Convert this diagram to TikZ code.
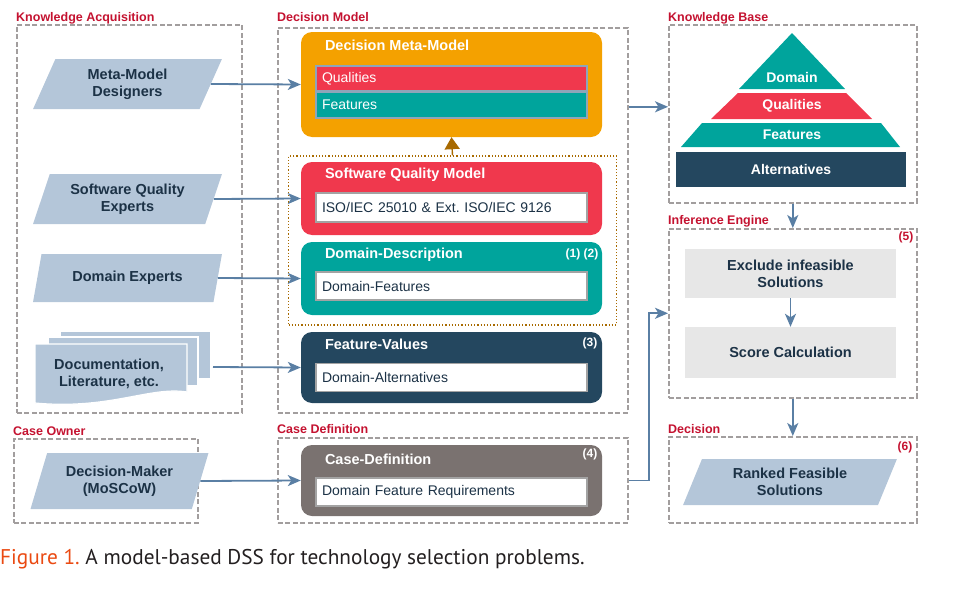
\documentclass[tikz,border=0pt]{standalone}
\usepackage{fontspec}
\setmainfont{Liberation Sans}
\newfontfamily\capfont{PT Sans}
\usetikzlibrary{shapes.geometric,arrows.meta,positioning}

\definecolor{labred}{HTML}{C41230}
\definecolor{framegray}{HTML}{A29E9E}
\definecolor{actorblue}{HTML}{B4C6D9}
\definecolor{navytext}{HTML}{1C3246}
\definecolor{flowblue}{HTML}{5A7FA4}
\definecolor{metaorange}{HTML}{F4A100}
\definecolor{qualred}{HTML}{F0384D}
\definecolor{featteal}{HTML}{00A49C}
\definecolor{fvnavy}{HTML}{24475F}
\definecolor{cdgray}{HTML}{7A7270}
\definecolor{slotgray}{HTML}{A3A3A3}
\definecolor{slotblue}{HTML}{8EA5B9}
\definecolor{brownline}{HTML}{A86A00}
\definecolor{enginegray}{HTML}{E7E7E7}
\definecolor{capred}{HTML}{EA4A12}
\definecolor{captext}{HTML}{231F20}
\frenchspacing

\begin{document}
\begin{tikzpicture}[x=1pt,y=-1pt,
  area/.style={draw=framegray,line width=1.6pt,dash pattern=on 5pt off 2.5pt,anchor=north west,inner sep=0pt},
  arealabel/.style={text=labred,font=\bfseries\fontsize{12.5}{12}\selectfont,anchor=base west,inner sep=0pt},
  actor/.style={trapezium,trapezium left angle=68,trapezium right angle=112,trapezium stretches=true,
    fill=actorblue,text=navytext,font=\bfseries\fontsize{14.5}{17}\selectfont,align=center,inner sep=0pt},
  panel/.style={rounded corners=11pt,minimum width=301pt,inner sep=0pt},
  ptitle/.style={text=white,font=\bfseries\fontsize{14.5}{14}\selectfont,anchor=west,inner sep=0pt},
  pnum/.style={text=white,font=\bfseries\fontsize{12}{12}\selectfont,inner sep=0pt},
  slot/.style={draw=slotgray,line width=1.4pt,fill=white,text width=259pt,inner xsep=6pt,inner ysep=0pt,
    align=left,text=navytext,font=\fontsize{14}{14}\selectfont},
  layer/.style={text=white,font=\bfseries\fontsize{14}{14}\selectfont,inner sep=0pt},
  engine/.style={fill=enginegray,minimum width=211pt,text=navytext,align=center,
    font=\bfseries\fontsize{14.5}{17}\selectfont,inner sep=0pt},
  flow/.style={-{Stealth[length=13pt,width=11pt,inset=3.5pt]},color=flowblue,line width=1.8pt},
]
\useasboundingbox (0,0) rectangle (956,605);

% areas
\node[area,minimum width=225pt,minimum height=388pt] (ka) at (16,24) {};
\node[arealabel] at (16,21) {Knowledge Acquisition};
\node[area,minimum width=350pt,minimum height=385pt] (dm) at (277,27) {};
\node[arealabel] at (277,21) {Decision Model};
\node[area,minimum width=248pt,minimum height=178pt] (kb) at (668,24) {};
\node[arealabel] at (668,21) {Knowledge Base};
\node[area,minimum width=248pt,minimum height=169pt] (ie) at (668,228) {};
\node[arealabel] at (668,224) {Inference Engine};
\node[area,minimum width=248pt,minimum height=86pt] (dec) at (668,436) {};
\node[arealabel] at (668,433) {Decision};
\node[area,minimum width=184pt,minimum height=84pt] (co) at (13,438) {};
\node[arealabel] at (13,435) {Case Owner};
\node[area,minimum width=350pt,minimum height=85pt] (cdarea) at (277,437) {};
\node[arealabel] at (277,433) {Case Definition};

% knowledge acquisition
\node[actor,minimum width=189pt,minimum height=50pt] (mmd) at (127.5,84) {Meta-Model\\Designers};
\node[actor,minimum width=189pt,minimum height=50pt] (sqe) at (127.5,199) {Software Quality\\Experts};
\node[actor,minimum width=189pt,minimum height=48pt] (dex) at (127.5,278) {Domain Experts};
\filldraw[fill=actorblue,draw=white,line width=1.2pt] (60,331) rectangle (211,379);
\filldraw[fill=actorblue,draw=white,line width=1.2pt] (48,337) rectangle (198,386);
\filldraw[fill=actorblue,draw=white,line width=1.2pt] (35,344) -- (187,344) -- (187,392)
  .. controls (150,386) and (110,410) .. (35,403) -- cycle;
\node[text=navytext,font=\bfseries\fontsize{14.5}{17}\selectfont,align=center] (docs) at (109,374) {Documentation,\\Literature, etc.};
\coordinate (docsout) at (213,367);

% decision model
\node[panel,fill=metaorange,minimum height=105pt] (meta) at (451.5,84.5) {};
\node[ptitle] at ([xshift=24pt,yshift=-14pt]meta.north west) {Decision Meta-Model};
\node[slot,fill=qualred,draw=slotblue,text=white,minimum height=25pt] (qual) at (451.5,78.5) {Qualities};
\node[slot,fill=featteal,draw=slotblue,text=white,minimum height=26pt] (feat) at (451.5,105) {Features};

\node[draw=brownline,line width=1.2pt,dotted,minimum width=328pt,minimum height=169pt,inner sep=0pt] (base) at (452.5,240.5) {};
\node[panel,fill=qualred,minimum height=73pt] (sqm) at (451.5,198.5) {};
\node[ptitle] at ([xshift=24pt,yshift=-13pt]sqm.north west) {Software Quality Model};
\node[slot,minimum height=29pt] (iso) at (451.5,207.5) {ISO/IEC 25010 \& Ext. ISO/IEC 9126};
\node[panel,fill=featteal,minimum height=73pt] (dd) at (451.5,278.5) {};
\node[ptitle] at ([xshift=24pt,yshift=-13pt]dd.north west) {Domain-Description};
\node[pnum] at (582,254) {(1) (2)};
\node[slot,minimum height=28pt] (dfeat) at (451.5,286) {Domain-Features};
\node[panel,fill=fvnavy,minimum height=71pt] (fv) at (451.5,367.5) {};
\node[ptitle] at ([xshift=24pt,yshift=-13pt]fv.north west) {Feature-Values};
\node[pnum] at (590,343) {(3)};
\node[slot,minimum height=28pt] (dalt) at (451.5,377.5) {Domain-Alternatives};

% case
\node[actor,minimum width=178pt,minimum height=56pt] (dmk) at (119.5,481) {Decision-Maker\\(MoSCoW)};
\node[panel,fill=cdgray,minimum height=71pt] (cd) at (451.5,480.5) {};
\node[ptitle] at ([xshift=24pt,yshift=-15pt]cd.north west) {Case-Definition};
\node[pnum] at (590,454) {(4)};
\node[slot,minimum height=28pt] (req) at (451.5,492) {Domain Feature Requirements};

% knowledge base
\fill[featteal] (792,33) -- (845,89) -- (739,89) -- cycle;
\node[layer] (kdom) at (792,77) {Domain};
\fill[qualred] (738,93) -- (846,93) -- (872,119) -- (711,119) -- cycle;
\node[layer] (kqual) at (792,106) {Qualities};
\fill[featteal] (702,123) -- (881,123) -- (900,147) -- (681,147) -- cycle;
\node[layer] (kfeat) at (792,135) {Features};
\node[fill=fvnavy,minimum width=230pt,minimum height=35pt,inner sep=0pt] (kalt) at (791,169.5) {};
\node[layer] at (kalt) {Alternatives};

% inference engine
\node[engine,minimum height=49pt] (excl) at (790.5,273.5) {Exclude infeasible\\Solutions};
\node[engine,minimum height=51pt] (score) at (790.5,352.5) {Score Calculation};
\node[text=labred,font=\bfseries\fontsize{12}{12}\selectfont,inner sep=0pt] at (906,237) {(5)};

% decision
\node[actor,trapezium left angle=66,trapezium right angle=114,minimum width=214pt,minimum height=46pt] (rank) at (790,482) {Ranked Feasible\\Solutions};
\node[text=labred,font=\bfseries\fontsize{12}{12}\selectfont,inner sep=0pt] at (905,447) {(6)};

% connectors
\path[flow]
  (mmd.east) edge (meta.west)
  (sqe.east) edge (sqm.west)
  (dex.east) edge (dd.west)
  (docsout) edge (fv.west)
  (dmk.east) edge (cd.west)
  ([yshift=7pt]kb.west -| dm.east) edge ([yshift=7pt]kb.west)
  (kb.south) edge (ie.north)
  (excl.south) edge (score.north)
  (ie.south) edge (dec.north);
\draw[flow] (cdarea.east |- cd.east) -- ++(20,0) |- (ie.west);
\draw[-{Triangle[length=12pt,width=15pt]},draw=brownline,fill=brownline,line width=1.4pt] (base.north) -- (meta.south);

% caption
\node[anchor=west,inner sep=0pt,font=\capfont\fontsize{21.3}{22}\selectfont,text=captext] (cap) at (0,559)
  {\textcolor{capred}{Figure 1.} A model-based DSS for technology selection problems.};
\end{tikzpicture}
\end{document}
